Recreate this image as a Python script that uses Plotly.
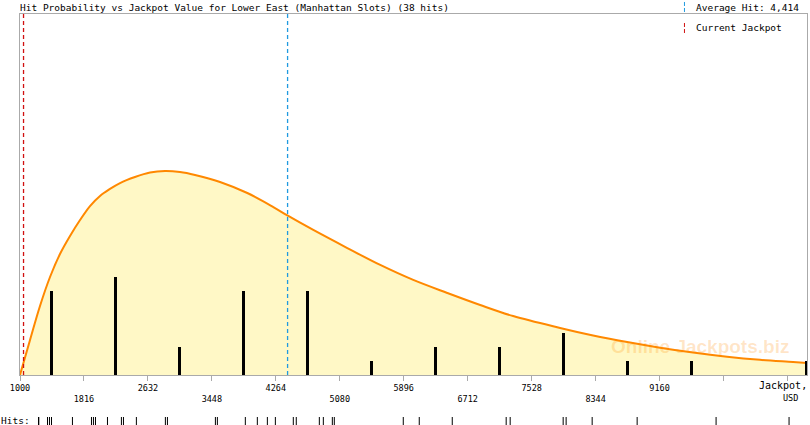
import plotly.graph_objects as go

# ---------------- data ----------------
title_text = "Hit Probability vs Jackpot Value for Lower East (Manhattan Slots) (38 hits)"
average_hit = 4414
current_jackpot = 1045

hit_values = [1236, 1240, 1351, 1376, 1402, 1669, 1912, 1937, 1963, 2116, 2294, 2320,
              2485, 2855, 2881, 3493, 3518, 3875, 4028, 4156, 4258, 4487, 4525, 4819,
              4870, 4985, 5010, 5890, 6094, 6515, 7203, 7254, 7930, 7968, 8300, 8874,
              9881, 10812]

bin_centers = [1408, 2224, 3040, 3856, 4672, 5488, 6304, 7120, 7936, 8752, 9568, 11030]
bin_counts = [6, 7, 2, 6, 6, 1, 2, 2, 3, 1, 1, 1]

curve_x = [1000, 1128, 1255, 1383, 1510, 1638, 1766, 1893, 2021, 2148, 2276, 2467,
           2659, 2850, 3041, 3233, 3552, 3900, 4232, 4423, 4742, 5176, 5596, 6017,
           6451, 6871, 7292, 7891, 8312, 8746, 9166, 9587, 10021, 10442, 10863, 11041]
curve_y = [0, 2.5, 4.93, 7.0, 8.64, 9.93, 11.07, 12.07, 12.79, 13.29, 13.71, 14.14,
           14.46, 14.57, 14.5, 14.29, 13.79, 13.0, 12.0, 11.36, 10.36, 9.07, 7.86, 6.79,
           5.86, 5.0, 4.21, 3.36, 2.82, 2.35, 1.95, 1.6, 1.3, 1.08, 0.93, 0.86]

tick_values = [1000, 1816, 2632, 3448, 4264, 5080, 5896, 6712, 7528, 8344, 9160, 9976, 10792]
tick_labels = ["1000", "1816", "2632", "3448", "4264", "5080", "5896", "6712", "7528",
               "8344", "9160", "", ""]

x_range = [1000, 11041]
y_max = 25.79

# ---------------- figure ----------------
MONO = "DejaVu Sans Mono"
GRAY = "#aaaaaa"
BLUE = "#1f9ae0"
RED = "#d01010"

fig = go.Figure()

fig.add_trace(go.Scatter(
    x=curve_x, y=curve_y, mode="lines", line=dict(color="#ff8800", width=2, shape="spline"),
    fill="tozeroy", fillcolor="#fff8c6", hoverinfo="skip", xaxis="x", yaxis="y"))

# bars on an overlaying axis so they are drawn above the filled curve
fig.add_trace(go.Bar(
    x=bin_centers, y=bin_counts, width=38, marker=dict(color="black", line=dict(width=0)),
    hoverinfo="skip", xaxis="x", yaxis="y3"))

# reference lines (average hit, current jackpot)
fig.add_trace(go.Scatter(
    x=[average_hit, average_hit], y=[0, y_max], mode="lines", opacity=1,
    line=dict(color=BLUE, width=1.3, dash="4px,3px"), hoverinfo="skip", xaxis="x", yaxis="y3"))
fig.add_trace(go.Scatter(
    x=[current_jackpot, current_jackpot], y=[0, y_max], mode="lines", opacity=1,
    line=dict(color=RED, width=1.3, dash="4px,3px"), hoverinfo="skip", xaxis="x", yaxis="y3"))

# hits strip
fig.add_trace(go.Scatter(
    x=hit_values, y=[0.5] * len(hit_values), mode="markers",
    marker=dict(symbol="line-ns", size=6, line=dict(color="black", width=1)),
    hoverinfo="skip", xaxis="x2", yaxis="y2"))

# two-row alternating tick labels
ticktext = [t if i % 2 == 0 else "<br>" + t for i, t in enumerate(tick_labels)]

fig.update_layout(
    width=810, height=425,
    margin=dict(l=20, r=3, t=14, b=0),
    paper_bgcolor="white", plot_bgcolor="white",
    showlegend=False, bargap=0,
    font=dict(family=MONO, size=9.5, color="black"),
    xaxis=dict(range=x_range, domain=[0, 1], anchor="y", tickmode="array",
               tickvals=tick_values, ticktext=ticktext, ticks="outside", ticklen=5,
               tickcolor=GRAY, tickwidth=1, showline=True, linecolor=GRAY, linewidth=1,
               mirror=True, showgrid=False, zeroline=False,
               tickfont=dict(family=MONO, size=8.5, color="black")),
    yaxis=dict(range=[0, y_max], domain=[0.1217, 1], anchor="x", showline=True,
               linecolor=GRAY, linewidth=1, mirror=True, showgrid=False, zeroline=False,
               showticklabels=False, ticks=""),
    yaxis3=dict(range=[0, y_max], overlaying="y", anchor="x", visible=False),
    xaxis2=dict(matches="x", range=x_range, anchor="y2", visible=False),
    yaxis2=dict(range=[0, 1], domain=[0, 0.0195], anchor="x2", visible=False),
)

# legend marks
fig.add_shape(type="line", xref="paper", yref="paper", x0=0.8443, x1=0.8443,
              y0=1.0049, y1=1.0316, line=dict(color=BLUE, width=1, dash="4px,2px"))
fig.add_shape(type="line", xref="paper", yref="paper", x0=0.8443, x1=0.8443,
              y0=0.9538, y1=0.983, line=dict(color=RED, width=1, dash="4px,2px"))

def note(text, x, y, xanchor="left", size=9.5, **kw):
    fig.add_annotation(text=text, x=x, y=y, xref="paper", yref="paper", xanchor=xanchor,
                       yanchor="middle", showarrow=False,
                       font=dict(family=kw.get("family", MONO), size=size,
                                 color=kw.get("color", "black"), weight=kw.get("weight", "normal")))

note(title_text, -0.002, 1.015)
note("Average Hit: {:,}".format(average_hit), 0.8565, 1.016)
note("Current Jackpot", 0.8565, 0.9675)
note("Jackpot,", 1.003, 0.0961, xanchor="right", size=10)
note("USD", 0.979, 0.065, xanchor="center", size=8.5)
note("Hits:", -0.027, 0.011)
note("Online Jackpots.biz", 0.864, 0.19, xanchor="center", size=19,
     family="Liberation Sans", color="rgba(255,140,0,0.22)", weight="bold")

fig.write_html("out.html", config={"displayModeBar": False},
               post_script="document.body.style.margin='0px';")
